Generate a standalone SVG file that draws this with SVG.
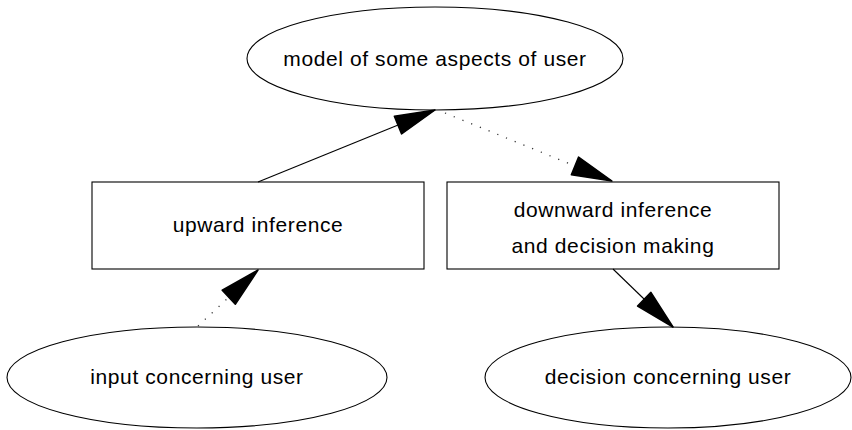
<svg xmlns="http://www.w3.org/2000/svg" width="852" height="430" viewBox="0 0 852 430">
  <style>
    .shape { fill: #ffffff; stroke: #000000; stroke-width: 1.1; }
    .label { font-family: "Liberation Sans", Arial, sans-serif; font-size: 21px; letter-spacing: 0.6px; fill: #000000; text-anchor: middle; }
    .edge { fill: none; stroke: #000000; stroke-width: 1.1; }
    .dotted { stroke-dasharray: 1.2 8.2; stroke: #333333; stroke-width: 1.3; }
  </style>
  <defs>
    <marker id="head" markerUnits="userSpaceOnUse" markerWidth="44" markerHeight="24" viewBox="-42 -12 44 24" refX="0" refY="0" orient="auto">
      <path d="M0,0 L-40,-9.6 L-40,9.6 Z" fill="#000000" stroke="#000000" stroke-width="1.5" stroke-linejoin="round"/>
    </marker>
  </defs>

  <g id="model">
    <ellipse class="shape" cx="435" cy="58.5" rx="188" ry="51.5"/>
    <text class="label" x="435" y="66">model of some aspects of user</text>
  </g>

  <g id="upward">
    <rect class="shape" x="92" y="182" width="332" height="87"/>
    <text class="label" x="258" y="232">upward inference</text>
  </g>

  <g id="downward">
    <rect class="shape" x="447" y="182" width="332" height="87"/>
    <text class="label" x="613" y="217">downward inference</text>
    <text class="label" x="613" y="253">and decision making</text>
  </g>

  <g id="input">
    <ellipse class="shape" cx="197" cy="377.5" rx="190" ry="50.5"/>
    <text class="label" x="197" y="384">input concerning user</text>
  </g>

  <g id="decision">
    <ellipse class="shape" cx="668" cy="377.5" rx="183" ry="50.5"/>
    <text class="label" x="668" y="384">decision concerning user</text>
  </g>

  <g id="connectors">
    <line class="edge" x1="258" y1="182" x2="435" y2="110" marker-end="url(#head)"/>
    <line class="edge dotted" x1="445" y1="113" x2="612" y2="181" marker-end="url(#head)"/>
    <line class="edge dotted" x1="198" y1="326" x2="258" y2="270" marker-end="url(#head)"/>
    <line class="edge" x1="613" y1="269" x2="673" y2="327" marker-end="url(#head)"/>
  </g>
</svg>
